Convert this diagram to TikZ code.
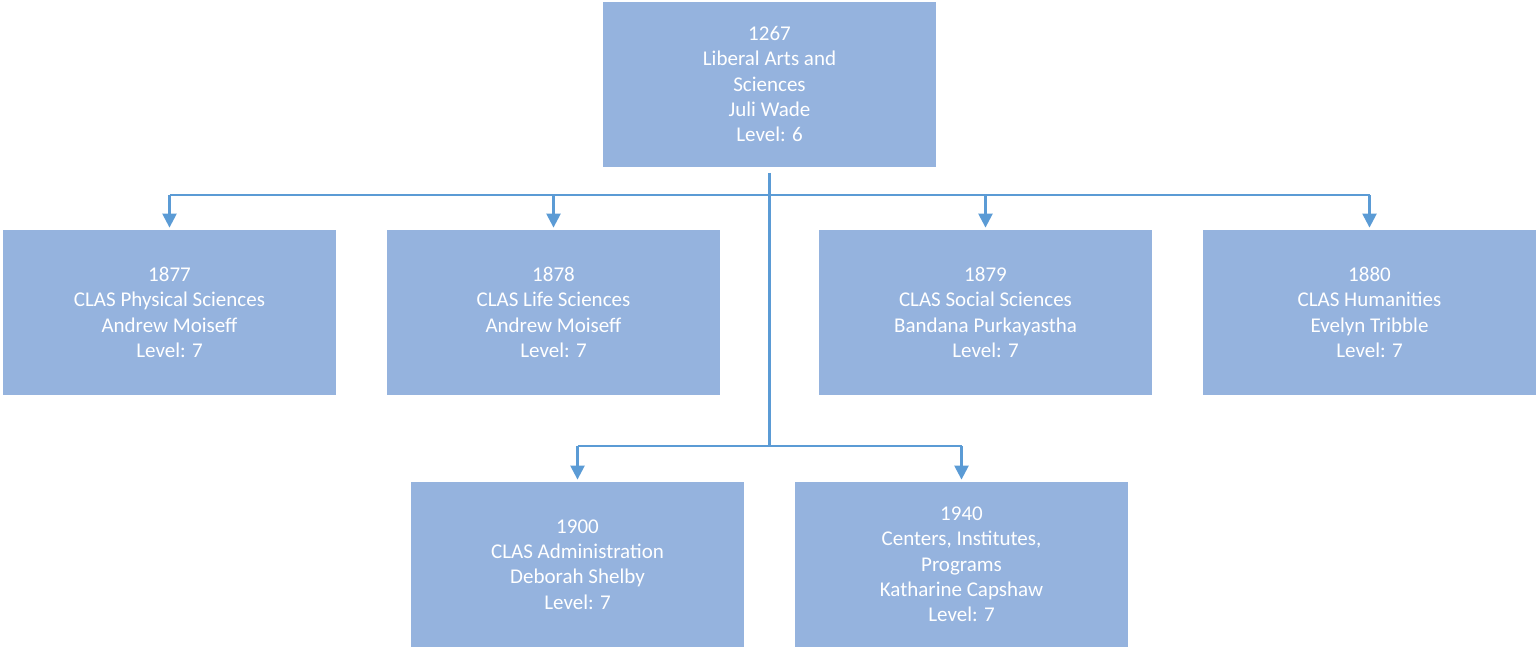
\documentclass[tikz,border=0pt]{standalone}
\usepackage{fontspec}
\setmainfont{Carlito}
\usetikzlibrary{arrows.meta,positioning}
\definecolor{boxfill}{HTML}{95B3DE}
\definecolor{linkline}{HTML}{5B9BD5}

\begin{document}
\begin{tikzpicture}[x=0.5pt, y=-0.5pt,
    unit/.style={fill=boxfill, text=white, align=center, inner sep=0pt,
        minimum width=166.5pt, minimum height=82.5pt,
        font=\fontsize{10.5}{12.65}\selectfont},
    link/.style={draw=linkline, line width=1.2pt},
    drop/.style={link, -{Triangle[width=7pt, length=7pt]}, shorten >=1pt}]
    \useasboundingbox (0,0) rectangle (1537,648);

    % Dekanat
    \node[unit] (las) at (769.5,84) {1267\\Liberal Arts and\\Sciences\\Juli Wade\\Level: 6};

    % erste Ebene
    \node[unit] (phys) at (169.5,312.5) {1877\\CLAS Physical Sciences\\Andrew Moiseff\\Level: 7};
    \node[unit] (life) at (553.5,312.5) {1878\\CLAS Life Sciences\\Andrew Moiseff\\Level: 7};
    \node[unit] (soc) at (985.5,312.5) {1879\\CLAS Social Sciences\\Bandana Purkayastha\\Level: 7};
    \node[unit] (hum) at (1369.5,312.5) {1880\\CLAS Humanities\\Evelyn Tribble\\Level: 7};

    % zweite Ebene
    \node[unit] (admin) at (577.5,564.5) {1900\\CLAS Administration\\Deborah Shelby\\Level: 7};
    \node[unit] (cent) at (961.5,564.5) {1940\\Centers, Institutes,\\Programs\\Katharine Capshaw\\Level: 7};

    % Verbindungen
    \coordinate (busA) at (769.5,195);
    \coordinate (busB) at (769.5,446);
    \draw[link] ([yshift=-3pt]las.south) -- (busB);
    \draw[link] (phys.north |- busA) -- (hum.north |- busA);
    \draw[link] (admin.north |- busB) -- (cent.north |- busB);
    \foreach \n in {phys,life,soc,hum}
        \draw[drop] (\n.north |- busA) -- (\n.north);
    \foreach \n in {admin,cent}
        \draw[drop] (\n.north |- busB) -- (\n.north);
\end{tikzpicture}
\end{document}
